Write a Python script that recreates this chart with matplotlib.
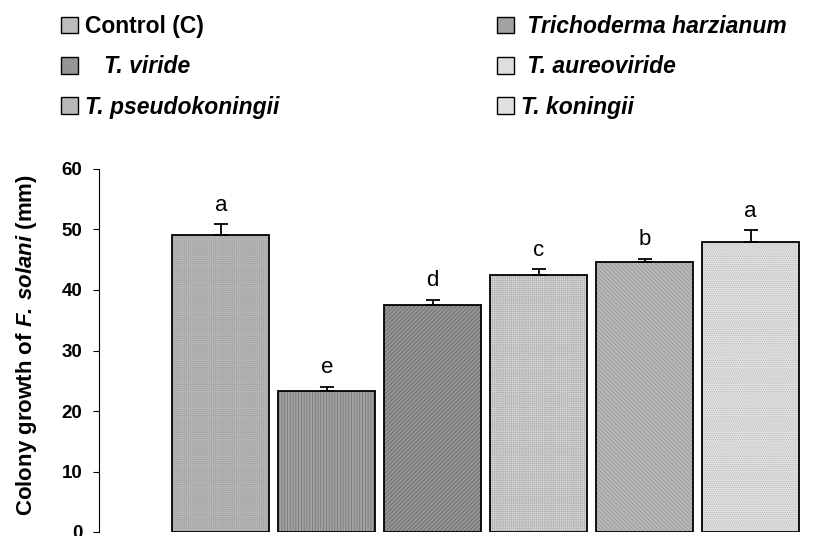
import matplotlib
matplotlib.use('Agg')
import matplotlib.pyplot as plt
from matplotlib.patches import Rectangle
import numpy as np

plt.rcParams['font.family'] = ['Liberation Sans', 'DejaVu Sans']
plt.rcParams['mathtext.fontset'] = 'custom'
plt.rcParams['mathtext.rm'] = 'Liberation Sans:bold'
plt.rcParams['mathtext.bf'] = 'Liberation Sans:bold'
plt.rcParams['mathtext.it'] = 'Liberation Sans:bold:italic'
plt.rcParams['mathtext.bfit'] = 'Liberation Sans:bold:italic'
plt.rcParams['hatch.linewidth'] = 0.5

##################################
##             DATA             ##
##################################

treatments = ['Control (C)', 'Trichoderma harzianum', 'T. viride',
              'T. aureoviride', 'T. pseudokoningii', 'T. koningii']
growth = [49.1, 23.3, 37.5, 42.4, 44.7, 48.0]
sd = [1.8, 0.7, 0.9, 1.0, 0.5, 1.9]
letters = ['a', 'e', 'd', 'c', 'b', 'a']
yticks = [0, 10, 20, 30, 40, 50, 60]

# fill, hatch colour, hatch pattern (imitating the excel fills)
faces = ['#bcbcbc', '#a2a2a2', '#959595', '#dedede', '#b8b8b8', '#e0e0e0']
hatch_cols = ['#a8a8a8', '#727272', '#626262', '#b4b4b4', '#939393', '#b8b8b8']
hatches = ['++++++++', '||||||', '////////', '++++++++', '\\\\\\\\\\\\\\\\', '........']
# leading spaces like in the original legend
legend_pad = ['', ' ', '   ', ' ', '', '']

##################################
##             PLOT             ##
##################################

fig = plt.figure(figsize=(8.13, 5.36), dpi=100)
ax = fig.add_axes([99 / 813, 4 / 536, 710 / 813, 363 / 536])

x = np.arange(len(growth))
width = 0.915

ax.bar(x, growth, width, color=faces, edgecolor='none', zorder=1)
hb = ax.bar(x, growth, width, fill=False, linewidth=0, zorder=2)
for b, h, c in zip(hb, hatches, hatch_cols):
    b.set_hatch(h)
    b.set_edgecolor(c)
    b.set_linewidth(0)
ax.bar(x, growth, width, fill=False, edgecolor='black', linewidth=1.3, zorder=3)

ax.errorbar(x, growth, yerr=[np.zeros(len(sd)), sd], fmt='none',
            ecolor='black', elinewidth=1.3, capsize=5, capthick=1.3, zorder=4)

for xi, v, e, l in zip(x, growth, sd, letters):
    ax.annotate(l, (xi, v + e), xytext=(0, 6), textcoords='offset points',
                ha='center', va='bottom', fontsize=16)

ax.set_xlim(-1.15, 5.55)
ax.set_ylim(0, 60)
ax.set_yticks(yticks)
ax.set_xticks([])
for lab in ax.get_yticklabels():
    lab.set_fontweight('bold')
ax.tick_params(axis='y', direction='out', length=4, width=0.8, pad=8, labelsize=13.5)

for s in ['top', 'right', 'bottom']:
    ax.spines[s].set_visible(False)
ax.spines['left'].set_linewidth(0.8)

ax.set_ylabel(r'Colony growth of $\mathbfit{F.\,solani}$ (mm)',
              fontsize=16, fontweight='bold')
ax.yaxis.set_label_coords(-0.084, 0.515)

##################################
##            LEGEND            ##
##################################

handles = [Rectangle((0, 0), 1, 1, facecolor=f, edgecolor='black', linewidth=1.0)
           for f in faces]
names = [p + t for p, t in zip(legend_pad, treatments)]

def add_legend(idx, xpix):
    leg = fig.legend([handles[i] for i in idx], [names[i] for i in idx],
                     loc='upper left', bbox_to_anchor=(xpix / 813, 1 - 15 / 536),
                     frameon=False, borderpad=0, borderaxespad=0,
                     handlelength=0.75, handleheight=0.75, handletextpad=0.3,
                     labelspacing=0.76, prop={'size': 16.5, 'weight': 'bold'})
    for i, t in zip(idx, leg.get_texts()):
        if i > 0:
            t.set_fontstyle('italic')
    return leg

add_legend([0, 2, 4], 61)
add_legend([1, 3, 5], 497)

plt.savefig('out.png', dpi=100)
plt.close()
